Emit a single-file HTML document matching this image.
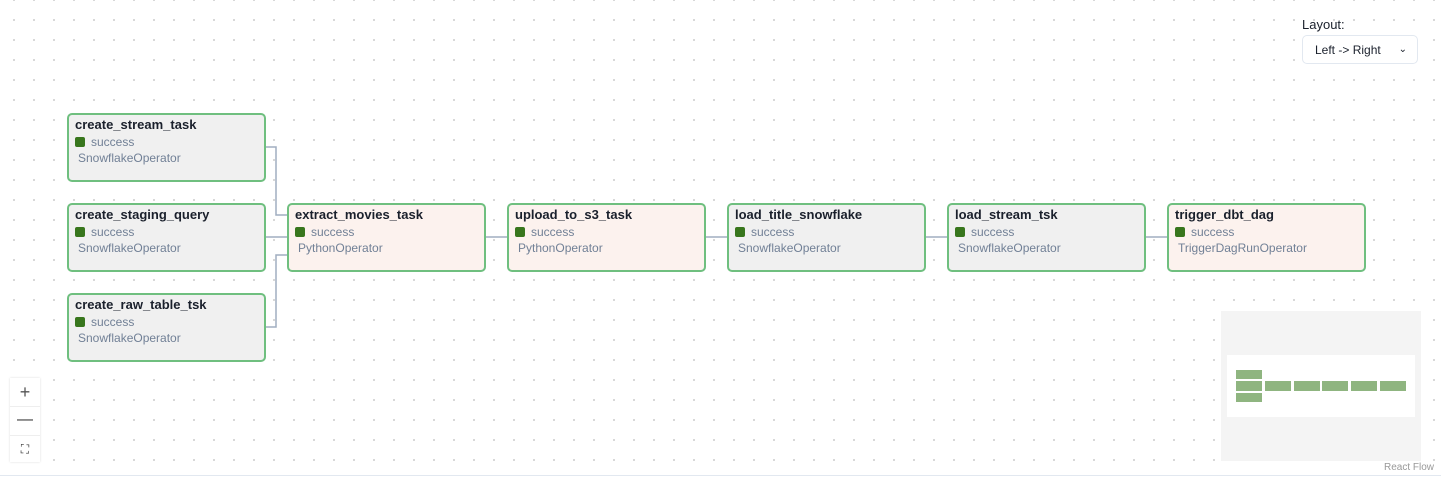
<!DOCTYPE html>
<html><head><style>
body{margin:0;width:1441px;height:478px;overflow:hidden;background:#fff;font-family:"Liberation Sans",sans-serif;position:relative}
.grid{position:absolute;left:0;top:0;width:1441px;height:476px;background-image:radial-gradient(circle,#c4c4c4 0.7px,transparent 1.1px);background-size:20px 20px;background-position:4px -10px}
.n{position:absolute;width:195px;height:65px;border:2px solid #6fbf7f;border-radius:5px;background:#f0f0f0;box-sizing:content-box}
.p{background:#fcf2ee}
.t{position:absolute;left:6px;top:2px;font-weight:bold;font-size:13px;color:#1a202c}
.s{position:absolute;left:6px;top:20px;font-size:12px;color:#718096}
.s i{display:inline-block;width:10px;height:10px;background:#38761d;border-radius:2px;margin-right:6px;vertical-align:-1px}
.o{position:absolute;left:9px;top:36px;font-size:12px;color:#718096}
svg{position:absolute;left:0;top:0}
</style></head><body>
<div class="grid"></div>
<div style="position:absolute;left:0;top:475px;width:1441px;height:1px;background:#e2e8f0"></div>
<svg width="1441" height="478"><g stroke="#a0aec0" stroke-width="1.5" fill="none">
<path d="M265 147H276V215H287"/><path d="M265 237H287"/><path d="M265 327H276V255H287"/>
<path d="M485 237H507"/><path d="M705 237H727"/><path d="M925 237H947"/><path d="M1145 237H1167"/></g></svg>
<div class="n" style="left:67px;top:113px"><div class="t">create_stream_task</div><div class="s"><i></i>success</div><div class="o">SnowflakeOperator</div></div>
<div class="n" style="left:67px;top:203px"><div class="t">create_staging_query</div><div class="s"><i></i>success</div><div class="o">SnowflakeOperator</div></div>
<div class="n" style="left:67px;top:293px"><div class="t">create_raw_table_tsk</div><div class="s"><i></i>success</div><div class="o">SnowflakeOperator</div></div>
<div class="n p" style="left:287px;top:203px"><div class="t">extract_movies_task</div><div class="s"><i></i>success</div><div class="o">PythonOperator</div></div>
<div class="n p" style="left:507px;top:203px"><div class="t">upload_to_s3_task</div><div class="s"><i></i>success</div><div class="o">PythonOperator</div></div>
<div class="n" style="left:727px;top:203px"><div class="t">load_title_snowflake</div><div class="s"><i></i>success</div><div class="o">SnowflakeOperator</div></div>
<div class="n" style="left:947px;top:203px"><div class="t">load_stream_tsk</div><div class="s"><i></i>success</div><div class="o">SnowflakeOperator</div></div>
<div class="n p" style="left:1167px;top:203px"><div class="t">trigger_dbt_dag</div><div class="s"><i></i>success</div><div class="o">TriggerDagRunOperator</div></div>
<div style="position:absolute;left:1302px;top:17px;font-size:13px;color:#1a202c">Layout:</div>
<div style="position:absolute;left:1302px;top:35px;width:116px;height:29px;border:1px solid #e2e8f0;border-radius:5px;background:#fff;font-size:12px;color:#1a202c;line-height:28px;padding-left:12px;box-sizing:border-box">Left -&gt; Right<span style="position:absolute;right:10px;top:0;font-size:10px">&#8964;</span></div>
<div style="position:absolute;left:10px;top:378px;width:30px;height:84px;background:#fff;box-shadow:0 0 2px rgba(0,0,0,.15)">
<div style="height:28px;border-bottom:1px solid #eee;text-align:center;line-height:28px;font-size:18px;color:#555">+</div>
<div style="height:28px;border-bottom:1px solid #eee;text-align:center;line-height:26px;font-size:16px;color:#333">—</div>
<div style="height:27px;text-align:center;line-height:27px;font-size:12px;color:#333">⛶</div></div>
<div style="position:absolute;left:1221px;top:311px;width:200px;height:150px;background:#f4f4f4"></div>
<div style="position:absolute;left:1227px;top:355px;width:188px;height:62px;background:#fff"></div>
<div style="position:absolute;background:#8fb580;left:1236px;top:370px;width:26px;height:9px"></div>
<div style="position:absolute;background:#8fb580;left:1236px;top:381px;width:26px;height:10px"></div>
<div style="position:absolute;background:#8fb580;left:1236px;top:393px;width:26px;height:9px"></div>
<div style="position:absolute;background:#8fb580;left:1265px;top:381px;width:26px;height:10px"></div>
<div style="position:absolute;background:#8fb580;left:1294px;top:381px;width:26px;height:10px"></div>
<div style="position:absolute;background:#8fb580;left:1322px;top:381px;width:26px;height:10px"></div>
<div style="position:absolute;background:#8fb580;left:1351px;top:381px;width:26px;height:10px"></div>
<div style="position:absolute;background:#8fb580;left:1380px;top:381px;width:26px;height:10px"></div>
<div style="position:absolute;left:1380px;top:462px;padding:0 4px;background:rgba(255,255,255,.8);font-size:10px;color:#999">React Flow</div>
</body></html>
